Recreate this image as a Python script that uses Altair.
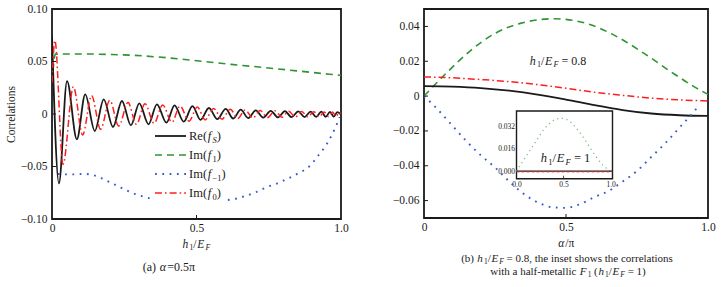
import altair as alt
import pandas as pd

SERIF = "Liberation Serif"
INK = "#1a1a1a"
GREEN = "#2f9433"
BLUE = "#3a5bd0"
RED = "#ff1e1e"
INSET_GREEN = "#8dbd8d"

# ---------------- panel (a): correlations vs h1/EF ----------------
RE_FS_H = [0.000, 0.024, 0.052, 0.086, 0.115, 0.148, 0.179, 0.211, 0.242, 0.273,
           0.302, 0.334, 0.363, 0.396, 0.424, 0.456, 0.486, 0.514, 0.543, 0.572,
           0.601, 0.627, 0.653, 0.679, 0.705, 0.731, 0.757, 0.782, 0.806, 0.829,
           0.852, 0.874, 0.895, 0.914, 0.932, 0.947, 0.962, 0.975, 0.987, 1.000]
RE_FS_V = [0.074, -0.066, 0.0314, -0.0241, 0.0187, -0.0162, 0.0140, -0.0124, 0.0124, -0.0108,
           0.0102, -0.0098, 0.0092, -0.0083, 0.0083, -0.0073, 0.0075, -0.0056, 0.0057, -0.0049,
           0.0048, -0.0043, 0.0041, -0.0039, 0.0035, -0.0035, 0.0030, -0.0032, 0.0027, -0.0030,
           0.0025, -0.0029, 0.0023, -0.0028, 0.0022, -0.0027, 0.0020, -0.0025, 0.0018, -0.0005]

IM_F0_H = [0.000, 0.010, 0.038, 0.074, 0.106, 0.137, 0.168, 0.200, 0.231, 0.263,
           0.292, 0.322, 0.353, 0.383, 0.415, 0.443, 0.474, 0.503, 0.530, 0.559,
           0.588, 0.617, 0.643, 0.668, 0.695, 0.720, 0.746, 0.771, 0.796, 0.819,
           0.842, 0.864, 0.885, 0.906, 0.924, 0.942, 0.957, 0.971, 0.983, 0.993, 1.000]
IM_F0_V = [0.030, 0.070, -0.048, 0.026, -0.020, 0.0175, -0.0145, 0.0130, -0.0115, 0.0110,
           -0.0098, 0.0097, -0.0088, 0.0086, -0.0078, 0.0076, -0.0068, 0.0066, -0.0056, 0.0053,
           -0.0049, 0.0045, -0.0043, 0.0039, -0.0038, 0.0034, -0.0034, 0.0030, -0.0031, 0.0027,
           -0.0029, 0.0024, -0.0027, 0.0022, -0.0026, 0.0020, -0.0025, 0.0018, -0.0023, 0.0015, 0.0000]

IM_F1_H = [0.0, 0.012, 0.10, 0.20, 0.28, 0.40, 0.51, 0.62, 0.74, 0.86, 1.0]
IM_F1_V = [0.030, 0.057, 0.0572, 0.0567, 0.0559, 0.0535, 0.0505, 0.0473, 0.0441, 0.0407, 0.0368]

IM_FM1_H = [0.020, 0.05, 0.08, 0.11, 0.14, 0.17, 0.20, 0.23, 0.26, 0.29,
            0.32, 0.35, 0.40, 0.45, 0.50, 0.55, 0.60, 0.63, 0.67, 0.71,
            0.74, 0.78, 0.82, 0.855, 0.89, 0.92, 0.95, 0.97, 0.985, 0.995]
IM_FM1_V = [-0.057, -0.0575, -0.0575, -0.057, -0.058, -0.061, -0.065, -0.069, -0.073, -0.0765,
            -0.079, -0.081, -0.082, -0.081, -0.080, -0.081, -0.082, -0.081, -0.078, -0.074,
            -0.070, -0.066, -0.061, -0.056, -0.050, -0.040, -0.029, -0.019, -0.010, -0.003]

# ---------------- panel (b): correlations vs alpha/pi ----------------
B_F1_A = [0.0, 0.083, 0.165, 0.248, 0.342, 0.459, 0.576, 0.682, 0.776, 0.870, 0.952, 1.0]
B_F1_V = [0.0, 0.0139, 0.0263, 0.0358, 0.0419, 0.0444, 0.0415, 0.0339, 0.0244, 0.0139, 0.0053, 0.0010]

B_A = [0.0, 0.1, 0.2, 0.3, 0.4, 0.5, 0.6, 0.7, 0.8, 0.9, 1.0]
B_F0_V = [0.0110, 0.0105, 0.0095, 0.0083, 0.0066, 0.0045, 0.0022, 0.0004, -0.0012, -0.0022, -0.0028]
B_FS_V = [0.0057, 0.0054, 0.0046, 0.0031, 0.0009, -0.0020, -0.0052, -0.0080, -0.0100, -0.0110, -0.0114]

B_FM1_A = [0.0, 0.05, 0.1, 0.15, 0.2, 0.25, 0.3, 0.35, 0.4, 0.45, 0.5,
           0.55, 0.6, 0.65, 0.7, 0.75, 0.8, 0.85, 0.9, 0.95, 0.97]
B_FM1_V = [0.0, -0.008, -0.017, -0.026, -0.034, -0.041, -0.049, -0.056, -0.061, -0.0638, -0.0642,
           -0.062, -0.058, -0.0545, -0.049, -0.043, -0.035, -0.027, -0.018, -0.009, -0.005]

# inset: half-metallic F1 (h1/EF = 1)
INSET_F1_A = [0.0, 0.08, 0.15, 0.22, 0.29, 0.36, 0.43, 0.49, 0.56, 0.63, 0.70, 0.77, 0.84, 0.91, 0.97, 1.0]
INSET_F1_V = [0.0, 0.0085, 0.0155, 0.0226, 0.0296, 0.0343, 0.0371, 0.0374, 0.0355, 0.0308,
              0.0249, 0.0178, 0.0108, 0.0049, 0.0014, 0.0]
INSET_FLAT_A = [0.0, 1.02]
INSET_FS_V = [0.0002, 0.0002]
INSET_F0_V = [-0.0004, -0.0004]

# ---------------- axes ----------------
X_TICKS = [0.0, 0.5, 1.0]
A_Y_TICKS = [-0.10, -0.05, 0.0, 0.05, 0.10]
B_Y_TICKS = [-0.06, -0.04, -0.02, 0.0, 0.02, 0.04]
A_Y_DOMAIN = [-0.10, 0.10]
B_Y_DOMAIN = [-0.07, 0.05]
INSET_X_DOMAIN = [0.0, 1.02]
INSET_Y_DOMAIN = [-0.0052, 0.0426]
INSET_X_TICKS = [0.0, 0.5, 1.0]
INSET_Y_TICKS = [0.0, 0.016, 0.032]

# ---------------- layout ----------------
LW, LH = 289, 210
RW, RH = 284, 209
INSET_RANGE_X = [92.5, 188.5]
INSET_RANGE_Y = [169.7, 102.0]

REG = {' ': 250, '(': 333, ')': 333, '.': 250, ',': 250, '/': 278, '=': 564, 'a': 444,
       'b': 500, 'c': 444, 'd': 500, 'e': 444, 'f': 333, 'h': 500, 'i': 278, 'l': 278,
       'm': 778, 'n': 500, 'o': 500, 'r': 333, 's': 389, 't': 278, 'w': 722, 'R': 667,
       'I': 333, 'E': 611, 'F': 556, 'S': 556, 'α': 520, 'π': 520, '−': 564, '-': 333}
for _d in "0123456789":
    REG[_d] = 500
ITA = {'h': 500, 'E': 611, 'F': 611, 'f': 278, 'S': 500, 'α': 520}

ONE = pd.DataFrame({"k": [0]})


def twidth(s, italic, size):
    tot = 0
    for c in s:
        tot += (ITA.get(c, REG.get(c, 500)) if italic else REG.get(c, 500))
    return tot / 1000.0 * size


def rich(segs, x, y, fs, align="left", color=INK):
    items = []
    prev_italic = False
    for text, kind in segs:
        sub = "s" in kind
        it = "i" in kind
        size = fs * 0.68 if sub else fs
        pre = fs * 0.06 if (it and not sub and not prev_italic) else 0.0
        post = fs * 0.10 if (it and not sub) else 0.0
        items.append((text, it, sub, size, pre, twidth(text, it, size), post))
        prev_italic = it
    total = sum(i[4] + i[5] + i[6] for i in items)
    cur = x - total / 2.0 if align == "center" else x
    layers = []
    for text, it, sub, size, pre, w, post in items:
        cur += pre
        stripped = text.lstrip(" ")
        lead = twidth(text[: len(text) - len(stripped)], it, size)
        dy = fs * 0.30 if sub else 0.0
        if stripped.strip():
            layers.append(
                alt.Chart(ONE).mark_text(
                    text=stripped.rstrip(" "), font=SERIF, fontSize=size,
                    fontStyle="italic" if it else "normal", align="left",
                    baseline="middle", color=color,
                ).encode(x=alt.value(cur + lead), y=alt.value(y + dy))
            )
        cur += w + post
    return layers


def df(xs, ys):
    return pd.DataFrame({"x": xs, "y": ys})


def series(data, xs, ys, xa, ya, color, width, dash=None, interp="monotone"):
    kw = dict(color=color, strokeWidth=width, interpolate=interp, clip=True)
    if dash:
        kw["strokeDash"] = dash
    return alt.Chart(data).mark_line(**kw).encode(
        x=alt.X("x:Q", scale=xs, axis=xa), y=alt.Y("y:Q", scale=ys, axis=ya)
    )


AX = dict(labelFont=SERIF, labelFontSize=11.5, labelColor=INK, grid=False, ticks=False,
          domain=False, titleFont=SERIF, titleFontSize=11.5, titleFontWeight="normal",
          titleColor=INK)
LBL_X = "datum.value == 0 ? '0' : format(datum.value, '.1f')"
LBL_Y = "datum.value == 0 ? '0' : format(datum.value, '.2f')"

# ---------------- panel (a) ----------------
xs_a = alt.Scale(domain=[0, 1], nice=False, zero=False)
ys_a = alt.Scale(domain=A_Y_DOMAIN, nice=False, zero=False)
xa_a = alt.Axis(values=X_TICKS, labelExpr=LBL_X, labelFlush=False, labelPadding=3, title=None, **AX)
ya_a = alt.Axis(values=A_Y_TICKS, labelExpr=LBL_Y, labelPadding=5, title="Correlations",
                titlePadding=4, **AX)

DASH_G = [7, 5]
DASH_B = [1.8, 5.5]
DASH_R = [7, 3, 1.6, 3]

a_layers = [
    series(df(IM_F1_H, IM_F1_V), xs_a, ys_a, xa_a, ya_a, GREEN, 1.6, DASH_G),
    series(df(IM_FM1_H, IM_FM1_V), xs_a, ys_a, xa_a, ya_a, BLUE, 1.9, DASH_B),
    series(df(RE_FS_H, RE_FS_V), xs_a, ys_a, xa_a, ya_a, INK, 1.8),
    series(df(IM_F0_H, IM_F0_V), xs_a, ys_a, xa_a, ya_a, RED, 1.5, DASH_R),
    # inward ticks
    alt.Chart(pd.DataFrame({"y": A_Y_TICKS[1:-1]})).mark_rule(color=INK, strokeWidth=1).encode(
        y=alt.Y("y:Q", scale=ys_a, axis=ya_a), x=alt.value(0), x2=alt.value(4)),
    alt.Chart(pd.DataFrame({"x": X_TICKS[1:-1]})).mark_rule(color=INK, strokeWidth=1).encode(
        x=alt.X("x:Q", scale=xs_a, axis=xa_a), y=alt.value(LH), y2=alt.value(LH - 4)),
    # legend background
    alt.Chart(ONE).mark_rect(fill="white").encode(
        x=alt.value(99), x2=alt.value(173), y=alt.value(119), y2=alt.value(193)),
]

LEG_Y = [127, 146, 165, 184]
LEG_STYLE = [(INK, None, 1.8), (GREEN, DASH_G, 1.6), (BLUE, DASH_B, 1.9), (RED, DASH_R, 1.5)]
LEG_LABELS = [
    [("Re(", "n"), ("f", "i"), ("S", "si"), (")", "n")],
    [("Im(", "n"), ("f", "i"), ("1", "s"), (")", "n")],
    [("Im(", "n"), ("f", "i"), ("−1", "s"), (")", "n")],
    [("Im(", "n"), ("f", "i"), ("0", "s"), (")", "n")],
]
for yy, (col, dash, w), lab in zip(LEG_Y, LEG_STYLE, LEG_LABELS):
    kw = dict(color=col, strokeWidth=w)
    if dash:
        kw["strokeDash"] = dash
    a_layers.append(alt.Chart(ONE).mark_rule(**kw).encode(
        x=alt.value(103), x2=alt.value(134), y=alt.value(yy)))
    a_layers += rich(lab, 137, yy, 12.5)

a_layers += rich([("h", "i"), ("1", "s"), ("/", "n"), ("E", "i"), ("F", "si")], 144, 236, 11.5, "center")
a_layers += rich([("(a) ", "n"), ("α", "i"), ("=0.5π", "n")], 117, 258, 12, "center")

panel_a = alt.layer(*a_layers).properties(width=LW, height=LH)

# ---------------- panel (b) ----------------
xs_b = alt.Scale(domain=[0, 1], nice=False, zero=False)
ys_b = alt.Scale(domain=B_Y_DOMAIN, nice=False, zero=False)
xa_b = alt.Axis(values=X_TICKS, labelExpr=LBL_X, labelFlush=False, labelPadding=3, title=None, **AX)
ya_b = alt.Axis(values=B_Y_TICKS, labelExpr=LBL_Y, labelPadding=5, title=None, **AX)

b_main = [
    series(df(B_F1_A, B_F1_V), xs_b, ys_b, xa_b, ya_b, GREEN, 1.6, DASH_G),
    series(df(B_A, B_F0_V), xs_b, ys_b, xa_b, ya_b, RED, 1.5, DASH_R),
    series(df(B_A, B_FS_V), xs_b, ys_b, xa_b, ya_b, INK, 1.8),
    series(df(B_FM1_A, B_FM1_V), xs_b, ys_b, xa_b, ya_b, BLUE, 1.9, DASH_B),
    alt.Chart(pd.DataFrame({"y": B_Y_TICKS})).mark_rule(color=INK, strokeWidth=1).encode(
        y=alt.Y("y:Q", scale=ys_b, axis=ya_b), x=alt.value(0), x2=alt.value(4)),
    alt.Chart(pd.DataFrame({"x": X_TICKS[1:-1]})).mark_rule(color=INK, strokeWidth=1).encode(
        x=alt.X("x:Q", scale=xs_b, axis=xa_b), y=alt.value(RH), y2=alt.value(RH - 4)),
]
b_main += rich([("h", "i"), ("1", "s"), ("/", "n"), ("E", "i"), ("F", "si"), (" = 0.8", "n")], 105, 52, 12)
b_main += rich([("α", "i"), ("/π", "n")], 142, 235, 11.5, "center")
b_main += rich([("(b) ", "n"), ("h", "i"), ("1", "s"), ("/", "n"), ("E", "i"), ("F", "si"),
                (" = 0.8, the inset shows the correlations", "n")], 143, 250, 11, "center")
b_main += rich([("with a half-metallic ", "n"), ("F", "i"), ("1", "s"), (" (", "n"), ("h", "i"), ("1", "s"),
                ("/", "n"), ("E", "i"), ("F", "si"), (" = 1)", "n")], 144, 263, 11, "center")

xs_i = alt.Scale(domain=INSET_X_DOMAIN, range=INSET_RANGE_X, nice=False, zero=False)
ys_i = alt.Scale(domain=INSET_Y_DOMAIN, range=INSET_RANGE_Y, nice=False, zero=False)
AXI = dict(AX)
AXI["labelFontSize"] = 7.5
xa_i = alt.Axis(orient="bottom", offset=-(RH - INSET_RANGE_Y[0]), values=INSET_X_TICKS, format=".1f",
                labelFlush=False, labelPadding=2, title=None, **AXI)
ya_i = alt.Axis(orient="left", offset=-INSET_RANGE_X[0], values=INSET_Y_TICKS, format=".3f",
                labelPadding=2, title=None, **AXI)

box = pd.DataFrame({"x": [INSET_X_DOMAIN[0]], "x2": [INSET_X_DOMAIN[1]],
                    "y": [INSET_Y_DOMAIN[0]], "y2": [INSET_Y_DOMAIN[1]]})
b_inset = [
    alt.Chart(box).mark_rect(fill="white", stroke=INK, strokeWidth=1.4).encode(
        x=alt.X("x:Q", scale=xs_i, axis=xa_i), x2="x2:Q",
        y=alt.Y("y:Q", scale=ys_i, axis=ya_i), y2="y2:Q"),
    series(df(INSET_F1_A, INSET_F1_V), xs_i, ys_i, xa_i, ya_i, INSET_GREEN, 1.3, [1.3, 3.5]),
    series(df(INSET_FLAT_A, INSET_FS_V), xs_i, ys_i, xa_i, ya_i, INK, 1.3),
    series(df(INSET_FLAT_A, INSET_F0_V), xs_i, ys_i, xa_i, ya_i, RED, 0.9, [3, 2]),
    alt.Chart(pd.DataFrame({"x": INSET_X_TICKS[1:-1]})).mark_rule(color=INK, strokeWidth=0.8).encode(
        x=alt.X("x:Q", scale=xs_i, axis=xa_i), y=alt.value(INSET_RANGE_Y[0]), y2=alt.value(INSET_RANGE_Y[0] - 3)),
]
b_inset += rich([("h", "i"), ("1", "s"), ("/", "n"), ("E", "i"), ("F", "si"), (" = 1", "n")], 116, 149, 12.5)

panel_b = alt.layer(alt.layer(*b_main), alt.layer(*b_inset)).resolve_scale(
    x="independent", y="independent").properties(width=RW, height=RH)

chart = alt.hconcat(panel_a, panel_b, spacing=83, bounds="flush").properties(
    padding={"left": 4, "top": 2, "right": 0, "bottom": 0}, background="white"
).configure_view(stroke=INK, strokeWidth=1.8).configure_axis(
    grid=False, ticks=False, tickSize=0, domain=False, labelFont=SERIF, labelFontSize=11.5,
    labelColor=INK, titleFont=SERIF, titleFontSize=11.5, titleFontWeight="normal", titleColor=INK,
)

chart.save("out.html", embed_options={"renderer": "svg", "actions": False})
